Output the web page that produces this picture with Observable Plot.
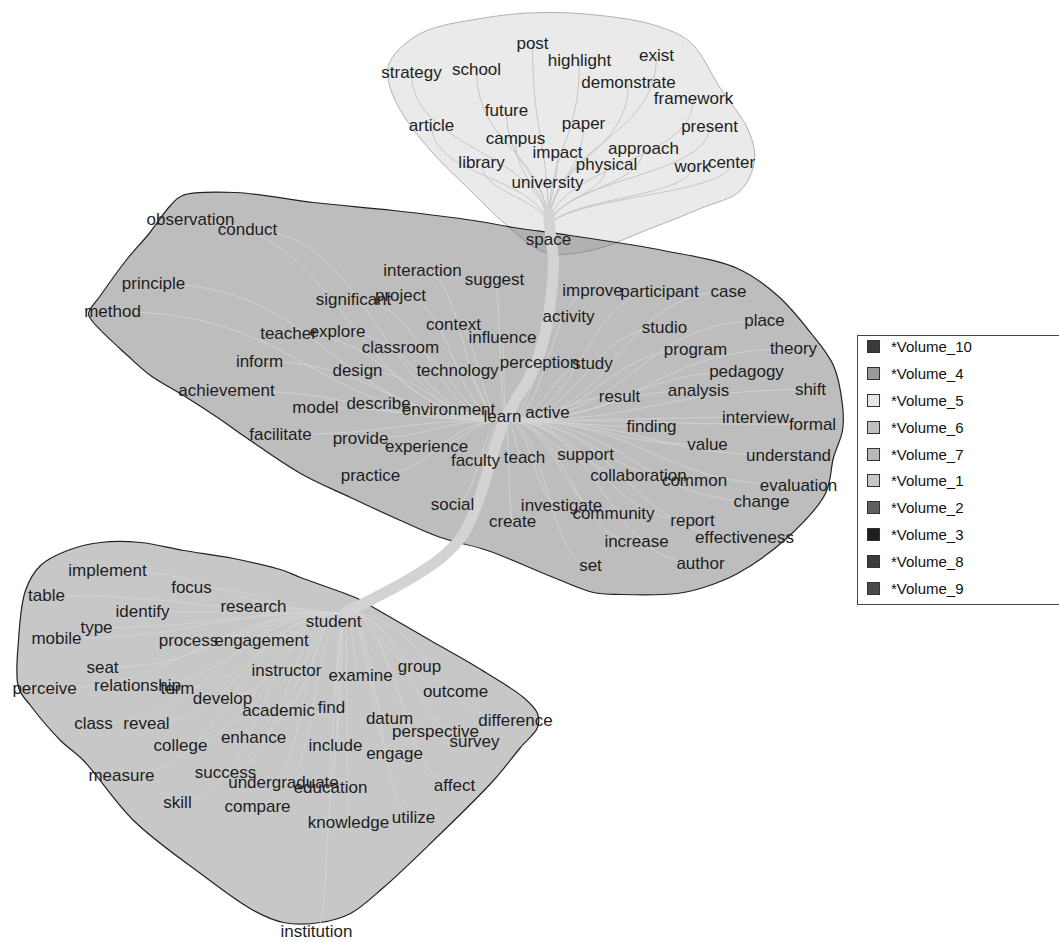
<!DOCTYPE html>
<html>
<head>
<meta charset="utf-8">
<script src="https://cdn.jsdelivr.net/npm/d3@7"></script>
<script src="https://cdn.jsdelivr.net/npm/@observablehq/plot@0.6"></script>
<style>
  html, body { margin: 0; padding: 0; background: #fff; }
  body { width: 1059px; height: 942px; position: relative; overflow: hidden; font-family: "Liberation Sans", Arial, sans-serif; }
  #chart { position: absolute; left: 0; top: 0; }
  #legend { position: absolute; left: 857px; top: 335px; width: 220px; height: 270px; border: 1px solid #444; background: #fff; box-sizing: border-box; }
  #rows { position: relative; top: -3px; }
  .row { height: 26.9px; display: flex; align-items: center; font-size: 15px; color: #111; }
  .sw { width: 11px; height: 11px; border: 1px solid #333; margin-left: 9px; margin-right: 11px; }
</style>
</head>
<body>
<div id="chart"></div>
<div id="legend"><div id="rows"></div></div>
<script>
// ---- Cluster 1 (top, light) ----
const topWords = ["post","highlight","exist","strategy","school","demonstrate","framework","future","article","paper","present","campus","impact","approach","library","physical","work","center","university","space"];
const topX = [532,579,656,411,476,628,693,506,431,583,709,515,557,643,481,606,692,731,547,548];
const topY = [43,60,55,72,69,82,98,110,125,123,126,138,152,148,162,164,166,162,182,239];

// ---- Cluster 2 (middle) ----
const midWords = ["observation","conduct","principle","method","interaction","significant","project","teacher","explore","context","classroom","inform","design","suggest","influence","activity","improve","technology","perception","study","describe","model","environment","learn","active","achievement","facilitate","provide","experience","faculty","teach","practice","support","social","create","investigate","community","collaboration","common","value","understand","evaluation","change","report","effectiveness","increase","set","author","participant","case","studio","place","program","theory","pedagogy","analysis","shift","result","interview","formal","finding"];
const midX = [190,247,153,112,422,353,400,288,337,453,400,259,357,494,502,568,592,457,539,592,378,315,448,502,547,226,280,360,426,475,524,370,585,452,512,561,613,638,694,707,788,798,761,692,744,636,590,700,659,728,664,764,695,793,746,698,810,619,755,812,651];
const midY = [219,229,283,311,270,299,295,333,331,324,347,361,370,279,337,316,290,370,362,363,403,407,409,416,412,390,434,438,446,460,457,475,454,504,521,505,513,475,480,444,455,485,501,520,537,541,565,563,291,291,327,320,349,348,371,390,389,396,417,424,426];

// ---- Cluster 3 (bottom) ----
const botWords = ["implement","table","focus","identify","research","student","type","mobile","process","engagement","seat","instructor","examine","group","perceive","relationship","term","develop","outcome","academic","find","datum","perspective","difference","survey","class","reveal","college","enhance","include","engage","measure","success","undergraduate","education","affect","skill","compare","knowledge","utilize","institution"];
const botX = [107,46,191,142,253,333,96,56,188,261,102,286,360,419,44,137,177,222,455,278,331,389,435,515,474,93,146,180,253,335,394,121,225,283,330,454,177,257,348,413,316];
const botY = [570,595,587,611,606,621,627,638,640,640,667,670,675,666,688,685,688,698,691,710,707,718,731,720,741,723,723,745,737,745,753,775,772,782,787,785,802,806,822,817,931];

// ---- Hub (bundle) points of each cluster ----
const clusters = ["top","middle","bottom"];
const hubX = [548,505,345];
const hubY = [230,420,612];

// ---- Hull outlines ----
const hullTopX = [390,420,480,540,600,655,690,720,748,754,740,700,650,590,545,510,470,430,400,388];
const hullTopY = [60,33,18,12,15,25,42,88,130,160,190,208,228,250,252,228,190,150,110,80];
const hullMidX = [182,235,313,393,473,513,570,663,737,777,810,833,842,842,833,825,787,737,703,677,620,593,553,487,440,400,350,300,247,217,183,150,127,93,88,100,127,147,170];
const hullMidY = [195,192,202,210,220,227,235,250,268,295,332,365,405,430,457,493,537,573,587,593,594,592,577,550,537,520,497,473,438,417,395,375,355,322,313,295,258,235,205];
const hullBotX = [30,60,83,133,200,253,283,320,350,383,433,493,520,537,537,523,477,430,373,357,300,283,233,183,140,100,67,40,25,18,18];
const hullBotY = [705,740,760,820,873,910,922,922,913,887,840,780,747,727,713,697,667,640,607,598,577,570,558,550,542,542,550,565,590,640,687];

// ---- Central bundle (trunk) ----
const trunkX = [345,373,410,440,462,478,492,502,515,530,543,550,553,550,548];
const trunkY = [612,598,578,558,535,500,455,425,400,375,340,300,260,235,212];

// ---- Legend ----
const legendLabels = ["*Volume_10","*Volume_4","*Volume_5","*Volume_6","*Volume_7","*Volume_1","*Volume_2","*Volume_3","*Volume_8","*Volume_9"];
const legendColors = ["#3a3a3a","#9a9a9a","#e6e6e6","#c0c0c0","#b8b8b8","#c8c8c8","#606060","#1e1e1e","#3c3c3c","#4a4a4a"];

// ---- Build tables ----
const words = [];
topWords.forEach((w, i) => words.push({word: w, x: topX[i], y: topY[i], c: 0}));
midWords.forEach((w, i) => words.push({word: w, x: midX[i], y: midY[i], c: 1}));
botWords.forEach((w, i) => words.push({word: w, x: botX[i], y: botY[i], c: 2}));
const edges = words.map(d => ({x1: hubX[d.c], y1: hubY[d.c], x2: d.x, y2: d.y, c: d.c}));
const toPts = (xs, ys) => xs.map((x, i) => ({x, y: ys[i]}));
const hullTop = toPts(hullTopX, hullTopY);
const hullMid = toPts(hullMidX, hullMidY);
const hullBot = toPts(hullBotX, hullBotY);
const trunk = toPts(trunkX, trunkY);

const font = "Liberation Sans, Arial, sans-serif";
const chart = Plot.plot({
  width: 1059,
  height: 942,
  margin: 0,
  x: {domain: [0, 1059], range: [0, 1059], axis: null},
  y: {domain: [0, 942], range: [0, 942], axis: null},
  style: {background: "transparent", fontFamily: font},
  marks: [
    Plot.line(hullTop, {x: "x", y: "y", curve: "catmull-rom-closed", fill: "#ababab", fillOpacity: 0.25, stroke: "#b0b0b0", strokeWidth: 1}),
    Plot.line(hullMid, {x: "x", y: "y", curve: "catmull-rom-closed", fill: "#6e6e6e", fillOpacity: 0.455, stroke: "#222", strokeWidth: 1.2}),
    Plot.line(hullBot, {x: "x", y: "y", curve: "catmull-rom-closed", fill: "#7a7a7a", fillOpacity: 0.42, stroke: "#222", strokeWidth: 1.2}),
    Plot.link(edges.filter(d => d.c === 0), {x1: "x1", y1: "y1", x2: "x2", y2: "y2", curve: "bump-y", stroke: "#c6c6c6", strokeWidth: 1}),
    Plot.link(edges.filter(d => d.c !== 0), {x1: "x1", y1: "y1", x2: "x2", y2: "y2", curve: "bump-x", stroke: "#d4d4d4", strokeWidth: 1, strokeOpacity: 0.85}),
    Plot.line(trunk, {x: "x", y: "y", curve: "catmull-rom", stroke: "#d3d3d3", strokeWidth: 11, strokeLinecap: "round"}),
    Plot.text(words, {x: "x", y: "y", text: "word", fontSize: 17, fill: "#1e1e1e", fontFamily: font})
  ]
});
document.getElementById("chart").appendChild(chart);

const rows = document.getElementById("rows");
legendLabels.forEach((lab, i) => {
  const row = document.createElement("div");
  row.className = "row";
  const sw = document.createElement("span");
  sw.className = "sw";
  sw.style.background = legendColors[i];
  row.appendChild(sw);
  row.appendChild(document.createTextNode(lab));
  rows.appendChild(row);
});
</script>
</body>
</html>
